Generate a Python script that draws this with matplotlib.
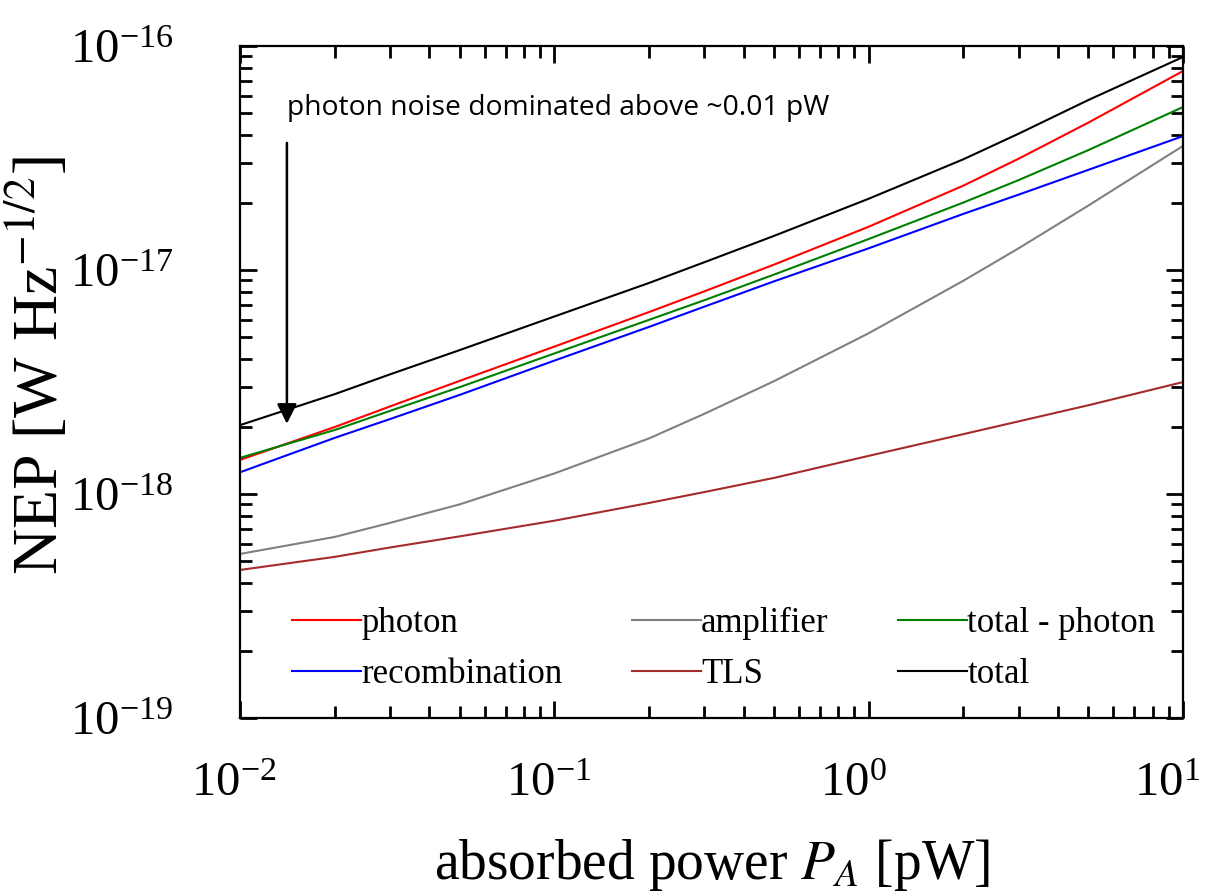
import numpy as np
import matplotlib
matplotlib.use("Agg")
import matplotlib.pyplot as plt
from matplotlib.transforms import ScaledTranslation

# absorbed power [pW]
P_A = [0.01, 0.02, 0.03, 0.05, 0.1, 0.2, 0.3, 0.5, 1, 2, 3, 5, 10]

# NEP [W Hz^-1/2]
nep_photon = [1.42e-18, 1.99e-18, 2.46e-18, 3.20e-18, 4.55e-18, 6.49e-18, 8.03e-18,
              1.057e-17, 1.56e-17, 2.38e-17, 3.14e-17, 4.55e-17, 7.73e-17]
nep_recomb = [1.25e-18, 1.78e-18, 2.16e-18, 2.77e-18, 3.94e-18, 5.57e-18, 6.86e-18,
              8.90e-18, 1.25e-17, 1.78e-17, 2.17e-17, 2.80e-17, 3.96e-17]
nep_amp = [5.40e-19, 6.43e-19, 7.43e-19, 8.99e-19, 1.235e-18, 1.77e-18, 2.28e-18,
           3.19e-18, 5.22e-18, 8.95e-18, 1.25e-17, 1.94e-17, 3.58e-17]
nep_tls = [4.58e-19, 5.24e-19, 5.77e-19, 6.47e-19, 7.60e-19, 9.12e-19, 1.02e-18,
           1.18e-18, 1.48e-18, 1.85e-18, 2.11e-18, 2.49e-18, 3.16e-18]
nep_total_minus_photon = [1.45e-18, 1.93e-18, 2.35e-18, 3.00e-18, 4.24e-18, 5.99e-18, 7.33e-18,
                          9.54e-18, 1.375e-17, 2.00e-17, 2.52e-17, 3.43e-17, 5.34e-17]
nep_total = [2.03e-18, 2.79e-18, 3.42e-18, 4.39e-18, 6.20e-18, 8.75e-18, 1.083e-17,
             1.42e-17, 2.08e-17, 3.12e-17, 4.06e-17, 5.74e-17, 8.93e-17]

x_ticks = [1e-2, 1e-1, 1e0, 1e1]
y_ticks = [1e-19, 1e-18, 1e-17, 1e-16]

plt.rcParams['font.family'] = ['Liberation Serif', 'DejaVu Serif']
plt.rcParams['mathtext.fontset'] = 'stix'

fig = plt.figure(figsize=(12.08, 8.96), dpi=100)
ax = fig.add_axes([240/1208, 1 - 718/896, 943/1208, 672/896])

lw = 1.5
ax.plot(P_A, nep_photon, color='red', lw=lw, label='photon')
ax.plot(P_A, nep_recomb, color='blue', lw=lw, label='recombination')
ax.plot(P_A, nep_amp, color='#808080', lw=lw, label='amplifier')
ax.plot(P_A, nep_tls, color='#a52a2a', lw=lw, label='TLS')
ax.plot(P_A, nep_total_minus_photon, color='#008000', lw=lw, label='total - photon')
ax.plot(P_A, nep_total, color='black', lw=lw, label='total')

ax.set_xscale('log')
ax.set_yscale('log')
ax.set_xlim(1e-2, 1e1)
ax.set_ylim(1e-19, 1e-16)
ax.set_xticks(x_ticks)
ax.set_yticks(y_ticks)

for s in ax.spines.values():
    s.set_linewidth(1.6)
ax.tick_params(which='both', direction='in', top=True, right=True, width=2)
ax.tick_params(which='major', length=12, labelsize=35)
ax.tick_params(axis='x', which='major', pad=32)
ax.tick_params(axis='y', which='major', pad=48)
ax.tick_params(which='minor', length=8.5)

# the "10" sits left of the tick, the exponent hangs to the right
shift = ScaledTranslation(-35/72, 0, fig.dpi_scale_trans)
for lab in ax.get_xticklabels():
    lab.set_ha('left')
    lab.set_transform(lab.get_transform() + shift)

ax.set_xlabel(r'absorbed power $P_A$ [pW]', fontsize=40, labelpad=22)
ax.set_ylabel(r'NEP [W Hz$^{-1/2}$]', fontsize=46)
ax.yaxis.set_label_coords(-0.178, 0.525)

ax.legend(loc='lower left', bbox_to_anchor=(0.04, 0.02), ncol=3, frameon=False,
          fontsize=25, handlelength=2.0, handletextpad=0.0, columnspacing=2.0,
          labelspacing=0.5, borderaxespad=0)

ax.annotate('', xy=(0.0141, 2.0e-18), xytext=(0.0141, 3.8e-17),
            arrowprops=dict(arrowstyle='-|>', color='black', lw=1.8, mutation_scale=30))
ax.text(0.0141, 5.3e-17, 'photon noise dominated above ~0.01 pW',
        fontsize=20.3, family=['Open Sans', 'DejaVu Sans'], va='center', ha='left')

fig.savefig('out.png', dpi=100)
